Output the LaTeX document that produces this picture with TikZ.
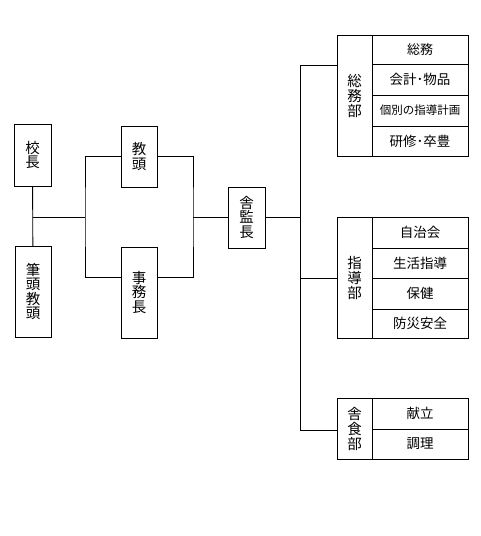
\documentclass[tikz,border=0pt]{standalone}
\usepackage{fontspec}
\newfontfamily\jp{Noto Sans CJK JP}
\usetikzlibrary{positioning,calc}
\tikzset{
  post/.style={draw,line width=0.9pt,inner sep=0pt,outer sep=0pt,align=center,
    font=\jp\fontsize{14.5}{14.5}\selectfont},
  head/.style={post,minimum width=35pt,minimum height=#1,
    font=\jp\fontsize{14.5}{15}\selectfont},
  cell/.style={post,minimum width=96pt,minimum height=#1,
    font=\jp\fontsize{13.5}{14}\selectfont},
  wire/.style={line width=0.9pt}
}
\begin{document}
\begin{tikzpicture}[x=1pt,y=-1pt]
  \useasboundingbox (0,0) rectangle (481,536);
  % left side
  \node[post,minimum width=37pt,minimum height=62pt] (kocho) at (32.5,155) {校\\長};
  \node[post,minimum width=36pt,minimum height=91pt] (hitto) at (33,291.5) {筆\\頭\\教\\頭};
  \node[post,minimum width=36pt,minimum height=61pt] (kyoto) at (139,156.5) {教\\頭};
  \node[post,minimum width=36pt,minimum height=91pt] (jimu) at (139,292.5) {事\\務\\長};
  \node[post,minimum width=37pt,minimum height=61pt] (shakan) at (246.5,217.5) {舎\\監\\長};
  \coordinate (j1) at (kocho.south |- shakan.west);
  \coordinate (lb) at (85,217.5);
  \coordinate (rb) at (193,217.5);
  \draw[wire] (kocho) -- (hitto);
  \draw[wire] (j1) -- (lb);
  \draw[wire] (kyoto.west) -| (lb) |- (jimu.west |- 0,277);
  \draw[wire] (kyoto.east) -| (rb) |- (jimu.east |- 0,277);
  \draw[wire] (rb) -- (shakan.west);
  % right side
  \node[head=121pt] (somu) at (354.5,95.5) {総\\務\\部};
  \node[cell=29pt,anchor=north west,font=\jp\fontsize{13}{14}\selectfont] (s1) at (somu.north east) {総務};
  \node[cell=31pt,below=0pt of s1] (s2) {会計･物品};
  \node[cell=31pt,below=0pt of s2,font=\jp\fontsize{11.5}{12}\selectfont] (s3) {個別の指導計画};
  \node[cell=30pt,below=0pt of s3] (s4) {研修･卒豊};
  \node[head=121pt] (shido) at (354.5,277.5) {指\\導\\部};
  \node[cell=31pt,anchor=north west] (d1) at (shido.north east) {自治会};
  \node[cell=30pt,below=0pt of d1] (d2) {生活指導};
  \node[cell=31pt,below=0pt of d2] (d3) {保健};
  \node[cell=29pt,below=0pt of d3] (d4) {防災安全};
  \node[head=61pt] (shoku) at (354.5,428.5) {舎\\食\\部};
  \node[cell=31pt,anchor=north west] (k1) at (shoku.north east) {献立};
  \node[cell=30pt,below=0pt of k1] (k2) {調理};
  \coordinate (tr) at (300,217.5);
  \draw[wire] (shakan.east) -- (tr);
  \draw[wire] (somu.west |- 0,65) -| (tr |- 0,65) -- (tr |- 0,430) -- (shoku.west |- 0,430);
  \draw[wire] (tr |- 0,278) -- (shido.west |- 0,278);
\end{tikzpicture}
\end{document}
